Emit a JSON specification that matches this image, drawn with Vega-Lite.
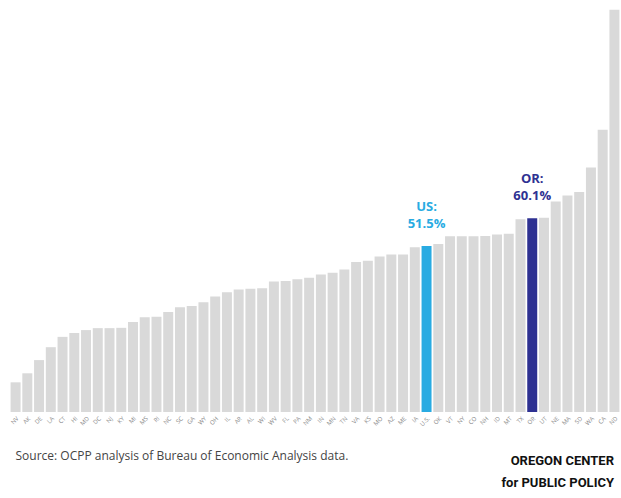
{
  "$schema": "https://vega.github.io/schema/vega-lite/v6.json",
  "width": 610,
  "height": 412,
  "autosize": {"type": "none"},
  "padding": {"left": 10, "top": 0, "right": 1, "bottom": 86},
  "background": "white",
  "config": {"view": {"stroke": null}, "font": "Open Sans"},
  "title": {
    "text": ["OREGON CENTER", "for PUBLIC POLICY"],
    "orient": "bottom",
    "anchor": "end",
    "font": "Roboto",
    "fontSize": 13,
    "fontWeight": "bold",
    "color": "#111111",
    "lineHeight": 22,
    "offset": -6,
    "dx": -6
  },
  "data": {
    "values": [
      {"state": "NV", "value": 9.2, "grp": "state"},
      {"state": "AK", "value": 12.0, "grp": "state"},
      {"state": "DE", "value": 16.1, "grp": "state"},
      {"state": "LA", "value": 20.1, "grp": "state"},
      {"state": "CT", "value": 23.3, "grp": "state"},
      {"state": "HI", "value": 24.5, "grp": "state"},
      {"state": "MD", "value": 25.4, "grp": "state"},
      {"state": "DC", "value": 26.0, "grp": "state"},
      {"state": "NJ", "value": 26.0, "grp": "state"},
      {"state": "KY", "value": 26.1, "grp": "state"},
      {"state": "MI", "value": 27.9, "grp": "state"},
      {"state": "MS", "value": 29.4, "grp": "state"},
      {"state": "RI", "value": 29.5, "grp": "state"},
      {"state": "NC", "value": 31.0, "grp": "state"},
      {"state": "SC", "value": 32.5, "grp": "state"},
      {"state": "GA", "value": 32.9, "grp": "state"},
      {"state": "WY", "value": 34.0, "grp": "state"},
      {"state": "OH", "value": 35.8, "grp": "state"},
      {"state": "IL", "value": 37.1, "grp": "state"},
      {"state": "AR", "value": 38.0, "grp": "state"},
      {"state": "AL", "value": 38.2, "grp": "state"},
      {"state": "WI", "value": 38.4, "grp": "state"},
      {"state": "WV", "value": 40.5, "grp": "state"},
      {"state": "FL", "value": 40.6, "grp": "state"},
      {"state": "PA", "value": 41.2, "grp": "state"},
      {"state": "NM", "value": 41.6, "grp": "state"},
      {"state": "IN", "value": 42.6, "grp": "state"},
      {"state": "MN", "value": 43.2, "grp": "state"},
      {"state": "TN", "value": 44.2, "grp": "state"},
      {"state": "VA", "value": 46.5, "grp": "state"},
      {"state": "KS", "value": 46.9, "grp": "state"},
      {"state": "MO", "value": 48.2, "grp": "state"},
      {"state": "AZ", "value": 48.8, "grp": "state"},
      {"state": "ME", "value": 48.8, "grp": "state"},
      {"state": "IA", "value": 51.1, "grp": "state"},
      {"state": "U.S.", "value": 51.5, "grp": "us", "note": "US:\n51.5%"},
      {"state": "OK", "value": 52.1, "grp": "state"},
      {"state": "VT", "value": 54.5, "grp": "state"},
      {"state": "NY", "value": 54.5, "grp": "state"},
      {"state": "CO", "value": 54.5, "grp": "state"},
      {"state": "NH", "value": 54.6, "grp": "state"},
      {"state": "ID", "value": 55.0, "grp": "state"},
      {"state": "MT", "value": 55.3, "grp": "state"},
      {"state": "TX", "value": 59.8, "grp": "state"},
      {"state": "OR", "value": 60.1, "grp": "or", "note": "OR:\n60.1%"},
      {"state": "UT", "value": 60.2, "grp": "state"},
      {"state": "NE", "value": 65.3, "grp": "state"},
      {"state": "MA", "value": 67.1, "grp": "state"},
      {"state": "SD", "value": 68.2, "grp": "state"},
      {"state": "WA", "value": 75.8, "grp": "state"},
      {"state": "CA", "value": 87.5, "grp": "state"},
      {"state": "ND", "value": 124.7, "grp": "state"}
    ]
  },
  "encoding": {
    "x": {
      "field": "state",
      "type": "nominal",
      "sort": null,
      "scale": {"paddingInner": 0.15, "paddingOuter": 0.05},
      "axis": {
        "title": "Source: OCPP analysis of Bureau of Economic Analysis data.",
        "titleAnchor": "start",
        "titleAlign": "left",
        "titleBaseline": "alphabetic",
        "titleX": 5,
        "titleY": 47,
        "titleFont": "Open Sans",
        "titleFontSize": 12,
        "titleFontWeight": "normal",
        "titleColor": "#444444",
        "labelAngle": -45,
        "labelFontSize": 6,
        "labelColor": "#888888",
        "labelPadding": 3,
        "ticks": false,
        "domain": false
      }
    },
    "y": {
      "field": "value",
      "type": "quantitative",
      "scale": {"domain": [0, 127.75], "nice": false},
      "axis": null
    }
  },
  "layer": [
    {
      "mark": {"type": "bar"},
      "encoding": {
        "color": {
          "field": "grp",
          "type": "nominal",
          "scale": {"domain": ["state", "us", "or"], "range": ["#d9d9d9", "#29abe2", "#2e3192"]},
          "legend": null
        }
      }
    },
    {
      "transform": [{"filter": "datum.note != null"}],
      "mark": {
        "type": "text",
        "baseline": "bottom",
        "dy": -32,
        "fontSize": 13,
        "fontWeight": "bold",
        "font": "Open Sans",
        "lineBreak": "\n",
        "lineHeight": 17
      },
      "encoding": {
        "text": {"field": "note"},
        "color": {
          "field": "grp",
          "type": "nominal",
          "scale": {"domain": ["state", "us", "or"], "range": ["#d9d9d9", "#29abe2", "#2e3192"]},
          "legend": null
        }
      }
    }
  ]
}
